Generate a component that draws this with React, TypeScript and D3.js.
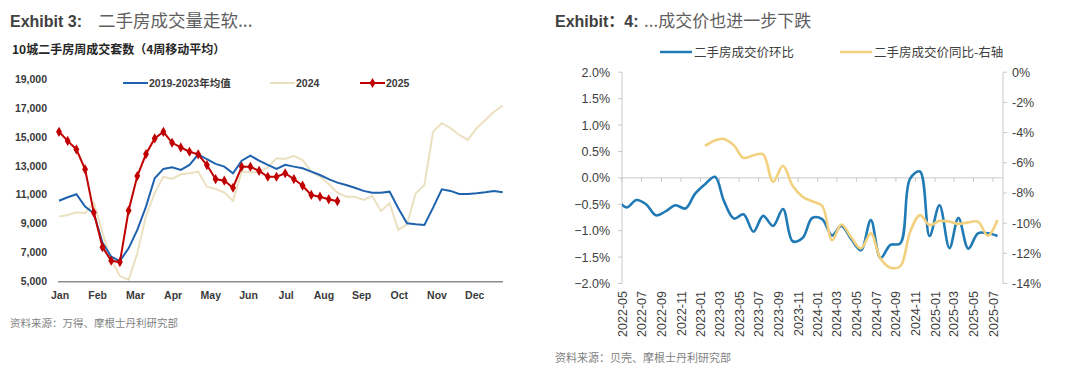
import { useEffect, useRef } from "react"
import * as d3 from "d3"

// ---- Exhibit 3: weekly second-hand home sales, 10 cities (4-week MA)
const monthLabels = ["Jan", "Feb", "Mar", "Apr", "May", "Jun", "Jul", "Aug", "Sep", "Oct", "Nov", "Dec"]
const salesTicks = [5000, 7000, 9000, 11000, 13000, 15000, 17000, 19000]

const avg2019to2023 = [
    10600, 10840, 11050, 10190, 9730, 7700, 6730, 6430, 7310, 8580,
    10190, 12150, 12800, 12920, 12730, 13080, 13810, 13470, 13150, 12960,
    12500, 13370, 13720, 13370, 13080, 12800, 13080, 12960, 12850, 12610,
    12380, 12090, 11850, 11690, 11500, 11280, 11160, 11160, 11230, 10080,
    9040, 8970, 8920, 10120, 11390, 11280, 11070, 11070, 11120, 11190,
    11280, 11190,
]
const sales2024 = [
    9500, 9620, 9800, 9730, 10470, 8390, 6500, 5390, 5120, 6970,
    9550, 11120, 12270, 12110, 12430, 12500, 12610, 11570, 11420, 11160,
    10590, 12610, 12570, 12570, 12920, 13540, 13490, 13700, 13420, 12610,
    12270, 11760, 11160, 10880, 10880, 10650, 10930, 9890, 10430, 8580,
    8970, 11120, 11690, 15380, 15960, 15620, 15150, 14810, 15620, 16190,
    16760, 17180,
]
const sales2025 = [
    15370, 14740, 14150, 12770, 9780, 7390, 6450, 6360, 9920, 12310,
    13830, 14910, 15370, 14610, 14290, 13990, 13810, 13070, 12100, 11990,
    11500, 12950, 12950, 12660, 12260, 12260, 12500, 12100, 11640, 11000,
    10880, 10700, 10570,
]

// ---- Exhibit 4: second-hand home prices (monthly, from 2022-04)
const priceStart = new Date(2022, 3, 15)
const momChange = [
    -0.40, -0.56, -0.42, -0.50, -0.71, -0.63, -0.52, -0.58, -0.30, -0.12,
    0.02, -0.44, -0.77, -0.69, -1.02, -0.72, -0.91, -0.59, -1.20, -1.14,
    -0.76, -0.78, -1.09, -0.91, -1.16, -1.37, -0.80, -1.52, -1.27, -1.24,
    -0.02, 0.12, -1.10, -0.52, -1.33, -0.76, -1.34, -1.05, -1.05, -1.10,
]
const yoyStart = new Date(2023, 0, 15)
const yoyChange = [
    -4.88, -4.52, -4.42, -4.85, -5.68, -5.50, -5.45, -7.26, -6.20, -7.52,
    -8.25, -8.55, -8.85, -11.13, -10.09, -10.95, -11.68, -10.68, -12.35, -12.95,
    -12.85, -10.60, -9.47, -10.13, -9.85, -9.90, -10.05, -9.95, -9.90, -10.84,
    -9.80,
]
const momTicks = [-2, -1.5, -1, -0.5, 0, 0.5, 1, 1.5, 2]
const yoyTicks = [-14, -12, -10, -8, -6, -4, -2, 0]

const latin = "'Liberation Sans', Arial, 'Noto Sans CJK SC', sans-serif"
const narrow = "'Liberation Sans Narrow', 'Arial Narrow', 'Liberation Sans', 'Noto Sans CJK SC', sans-serif"
const cjk = "'Noto Sans CJK SC', 'Liberation Sans', sans-serif"

const drawSalesChart = (g) => {
    const x = d3.scaleLinear().domain([0, 51]).range([59, 502.7])
    const y = d3.scaleLinear().domain([5000, 19000]).range([281.7, 79.3])

    g.append("text").attr("x", 10).attr("y", 27)
        .attr("font-family", latin).attr("font-weight", 700).attr("font-size", 16)
        .attr("fill", "#404040").text("Exhibit 3:")
    g.append("text").attr("x", 98).attr("y", 27)
        .attr("font-family", cjk).attr("font-size", 17.5)
        .attr("fill", "#5f5f5f").text("二手房成交量走软...")
    g.append("text").attr("x", 12).attr("y", 54)
        .attr("font-family", cjk).attr("font-weight", 700).attr("font-size", 12)
        .attr("fill", "#262626").text("10城二手房周成交套数（4周移动平均）")

    // y labels
    g.selectAll(".ytick").data(salesTicks).join("text")
        .attr("x", 47).attr("y", d => y(d) + 3.5)
        .attr("text-anchor", "end")
        .attr("font-family", narrow).attr("font-size", 10.5).attr("font-weight", 700)
        .attr("fill", "#3a3a3a")
        .text(d => d3.format(",")(d))

    // bottom axis
    g.append("line").attr("x1", 58).attr("x2", 503)
        .attr("y1", y(5000)).attr("y2", y(5000))
        .attr("stroke", "#8c8c8c").attr("stroke-width", 1.5)

    g.selectAll(".xtick").data(monthLabels).join("text")
        .attr("x", (_, i) => x(i * 52 / 12) + 1)
        .attr("y", 299)
        .attr("text-anchor", "middle")
        .attr("font-family", narrow).attr("font-size", 10.5).attr("font-weight", 700)
        .attr("fill", "#3a3a3a")
        .text(d => d)

    const line = d3.line().x((_, i) => x(i)).y(d => y(d))

    g.append("path").attr("d", line(sales2024))
        .attr("fill", "none").attr("stroke", "#ebe0c0").attr("stroke-width", 2)
    g.append("path").attr("d", line(avg2019to2023))
        .attr("fill", "none").attr("stroke", "#1f62ae").attr("stroke-width", 2)
    g.append("path").attr("d", line(sales2025))
        .attr("fill", "none").attr("stroke", "#c00000").attr("stroke-width", 2)

    const diamond = d3.symbol().type(d3.symbolDiamond).size(30)
    g.selectAll(".mk").data(sales2025).join("path")
        .attr("d", diamond)
        .attr("transform", (d, i) => `translate(${x(i)},${y(d)})`)
        .attr("fill", "#c00000")

    // legend
    const legend = [
        { label: "2019-2023年均值", color: "#1f62ae", x: 123, marker: false },
        { label: "2024", color: "#ebe0c0", x: 270, marker: false },
        { label: "2025", color: "#c00000", x: 360, marker: true },
    ]
    legend.forEach(l => {
        g.append("line").attr("x1", l.x).attr("x2", l.x + 25)
            .attr("y1", 83).attr("y2", 83)
            .attr("stroke", l.color).attr("stroke-width", 2)
        if (l.marker) {
            g.append("path").attr("d", diamond)
                .attr("transform", `translate(${l.x + 12.5},83)`)
                .attr("fill", l.color)
        }
        g.append("text").attr("x", l.x + 26).attr("y", 86.5)
            .attr("font-family", narrow).attr("font-size", 10.5).attr("font-weight", 700)
            .attr("fill", "#3a3a3a").text(l.label)
    })

    g.append("text").attr("x", 10).attr("y", 327)
        .attr("font-family", cjk).attr("font-size", 10.5)
        .attr("fill", "#7f7f7f").text("资料来源：万得、摩根士丹利研究部")
}

const drawPriceChart = (g) => {
    const left = 622
    const right = 1003
    const x = d3.scaleTime()
        .domain([new Date(2022, 4, 1), new Date(2025, 7, 1)])
        .range([left, right])
    const yL = d3.scaleLinear().domain([-2, 2]).range([283.5, 72.2])
    const yR = d3.scaleLinear().domain([-14, 0]).range([283.5, 72.2])

    g.append("text").attr("x", 555).attr("y", 27)
        .attr("font-family", latin).attr("font-weight", 700).attr("font-size", 16)
        .attr("fill", "#404040").text("Exhibit：4:")
    g.append("text").attr("x", 644).attr("y", 27)
        .attr("font-family", cjk).attr("font-size", 17)
        .attr("fill", "#5f5f5f").text("...成交价也进一步下跌")

    // legend
    const legend = [
        { label: "二手房成交价环比", color: "#1f7ab5", x: 660 },
        { label: "二手房成交价同比-右轴", color: "#f2d07e", x: 840 },
    ]
    legend.forEach(l => {
        g.append("line").attr("x1", l.x).attr("x2", l.x + 32)
            .attr("y1", 52).attr("y2", 52)
            .attr("stroke", l.color).attr("stroke-width", 2.5)
        g.append("text").attr("x", l.x + 34).attr("y", 56.5)
            .attr("font-family", cjk).attr("font-size", 12.5)
            .attr("fill", "#404040").text(l.label)
    })

    const axisColor = "#c8c8c8"
    // left axis
    g.append("line").attr("x1", left).attr("x2", left)
        .attr("y1", yL(2)).attr("y2", yL(-2)).attr("stroke", axisColor)
    g.selectAll(".lt").data(momTicks).join("line")
        .attr("x1", left - 4).attr("x2", left)
        .attr("y1", d => yL(d)).attr("y2", d => yL(d)).attr("stroke", axisColor)
    g.selectAll(".ll").data(momTicks).join("text")
        .attr("x", 610).attr("y", d => yL(d) + 4.5)
        .attr("text-anchor", "end")
        .attr("font-family", latin).attr("font-size", 12.5)
        .attr("fill", "#404040")
        .text(d => d3.format(".1f")(d) + "%")

    // right axis
    g.append("line").attr("x1", right).attr("x2", right)
        .attr("y1", yR(0)).attr("y2", yR(-14)).attr("stroke", axisColor)
    g.selectAll(".rt").data(yoyTicks).join("line")
        .attr("x1", right).attr("x2", right + 4)
        .attr("y1", d => yR(d)).attr("y2", d => yR(d)).attr("stroke", axisColor)
    g.selectAll(".rl").data(yoyTicks).join("text")
        .attr("x", 1012).attr("y", d => yR(d) + 4.5)
        .attr("font-family", latin).attr("font-size", 12.5)
        .attr("fill", "#404040")
        .text(d => `${d}%`)

    // zero line with month ticks
    const monthTicks = d3.timeMonth.every(2).range(new Date(2022, 4, 1), new Date(2025, 7, 2))
    g.append("line").attr("x1", left).attr("x2", right)
        .attr("y1", yL(0)).attr("y2", yL(0)).attr("stroke", axisColor)
    g.selectAll(".xt").data(monthTicks).join("line")
        .attr("x1", d => x(d)).attr("x2", d => x(d))
        .attr("y1", yL(0)).attr("y2", yL(0) + 4).attr("stroke", axisColor)
    g.selectAll(".xl").data(monthTicks).join("text")
        .attr("transform", d => `translate(${x(d) + 4.5},291) rotate(-90)`)
        .attr("text-anchor", "end")
        .attr("font-family", latin).attr("font-size", 12.5)
        .attr("fill", "#404040")
        .text(d => d3.timeFormat("%Y-%m")(d))

    // series
    g.append("clipPath").attr("id", "plot-clip")
        .append("rect").attr("x", left).attr("y", 60)
        .attr("width", right - left).attr("height", 240)

    const momLine = d3.line()
        .x((_, i) => x(d3.timeMonth.offset(priceStart, i)))
        .y(d => yL(d))
        .curve(d3.curveCatmullRom.alpha(0.5))
    const yoyLine = d3.line()
        .x((_, i) => x(d3.timeMonth.offset(yoyStart, i)))
        .y(d => yR(d))
        .curve(d3.curveCatmullRom.alpha(0.5))

    g.append("path").attr("d", momLine(momChange))
        .attr("clip-path", "url(#plot-clip)")
        .attr("fill", "none").attr("stroke", "#1f7ab5").attr("stroke-width", 2.6)
    g.append("path").attr("d", yoyLine(yoyChange))
        .attr("clip-path", "url(#plot-clip)")
        .attr("fill", "none").attr("stroke", "#f2d07e").attr("stroke-width", 2.6)

    g.append("text").attr("x", 555).attr("y", 362)
        .attr("font-family", cjk).attr("font-size", 11)
        .attr("fill", "#7f7f7f").text("资料来源：贝壳、摩根士丹利研究部")
}

export default function App() {
    const svgRef = useRef(null)

    useEffect(() => {
        const svg = d3.select(svgRef.current)
        svg.selectAll("*").remove()
        drawSalesChart(svg.append("g"))
        drawPriceChart(svg.append("g"))
        return () => { svg.selectAll("*").remove() }
    }, [])

    return (
        <svg
            ref={svgRef}
            width={1080}
            height={374}
            style={{ position: "absolute", left: 0, top: 0, background: "#fff" }}
        />
    )
}
